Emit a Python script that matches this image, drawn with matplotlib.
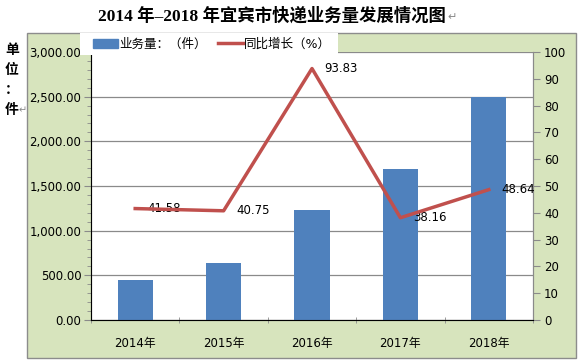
import matplotlib.pyplot as plt
import numpy as np
from matplotlib.patches import Rectangle, Patch
from matplotlib.lines import Line2D
from matplotlib.ticker import FuncFormatter, MultipleLocator, FixedLocator

years = ['2014年', '2015年', '2016年', '2017年', '2018年']
volume = [452, 637, 1230, 1690, 2500]
growth = [41.58, 40.75, 93.83, 38.16, 48.64]

W, H = 578, 360
fig = plt.figure(figsize=(W / 100, H / 100), dpi=100)
fig.patch.set_facecolor('white')

# green chart box
fig.patches.append(Rectangle((27 / W, 1 - 358 / H), 549 / W, 325 / H, transform=fig.transFigure,
                             facecolor='#D7E4BD', edgecolor='#8c8c8c', lw=1.0, zorder=-5))

cjk = ['DejaVu Sans', 'Noto Sans CJK SC']

ax = fig.add_axes([91 / W, 1 - 320 / H, 442 / W, 268 / H])
ax.set_facecolor('white')
x = np.arange(len(years))
ax.bar(x, volume, width=0.4, color='#4F81BD', zorder=3)
ax.set_xlim(-0.5, 4.5)
ax.set_ylim(0, 3000)
ax.yaxis.set_major_locator(MultipleLocator(500))
ax.yaxis.set_minor_locator(MultipleLocator(100))
ax.yaxis.set_major_formatter(FuncFormatter(lambda v, p: f'{v:,.2f}'))
ax.grid(axis='y', color='#8a8a8a', lw=0.9, zorder=1)
ax.set_xticks(x)
ax.set_xticklabels(years, family=cjk, fontsize=8.5)
ax.xaxis.set_minor_locator(FixedLocator(np.arange(-0.5, 5, 1)))
ax.tick_params(axis='x', which='major', length=0, pad=12)
ax.tick_params(axis='x', which='minor', length=4, direction='inout', color='#8a8a8a')
ax.tick_params(axis='y', which='major', length=5, color='#8a8a8a', labelsize=8.5, pad=2)
ax.tick_params(axis='y', which='minor', length=3, color='#8a8a8a')
ax.spines['top'].set_visible(False)
for s in ['left', 'bottom', 'right']:
    ax.spines[s].set_color('#8a8a8a')

ax2 = ax.twinx()
ax2.plot(x, growth, color='#C0504D', lw=2.5, zorder=4)
ax2.set_ylim(0, 100)
ax2.yaxis.set_major_locator(MultipleLocator(10))
ax2.tick_params(axis='y', length=5, color='#8a8a8a', labelsize=8.5, pad=3)
ax2.spines['top'].set_visible(False)
ax2.spines['right'].set_color('#8a8a8a')
for xi, g in zip(x, growth):
    ax2.annotate(f'{g:.2f}', (xi, g), xytext=(9, 0), textcoords='offset points',
                 va='center', ha='left', fontsize=8.5)

# legend box
fig.patches.append(Rectangle((80 / W, 1 - 55 / H), 258 / W, 22 / H, transform=fig.transFigure,
                             facecolor='white', edgecolor='none', zorder=5))
handles = [Patch(color='#4F81BD'), Line2D([], [], color='#C0504D', lw=2.5)]
leg = fig.legend(handles, ['业务量：（件）', '同比增长（%）'], loc='center left',
                 bbox_to_anchor=(88 / W, 1 - 44 / H), ncol=2, frameon=False,
                 prop={'family': cjk, 'size': 9}, handlelength=2.0, handletextpad=0.1,
                 columnspacing=0.9, borderaxespad=0)
leg.set_zorder(6)

fig.text(272 / W, 1 - 16 / H, '2014 年–2018 年宜宾市快递业务量发展情况图', ha='center', va='center',
         fontsize=12.5, fontweight='bold', family=['Liberation Serif', 'Noto Sans CJK SC'])
fig.text(447 / W, 1 - 17 / H, '↵', ha='left', va='center', fontsize=8, color='#888888')
fig.text(12 / W, 1 - 80 / H, '单\n位\n：\n件', ha='center', va='center', fontsize=10,
         fontweight='bold', family=['Noto Sans CJK SC'], linespacing=1.55)
fig.text(19 / W, 1 - 110 / H, '↵', ha='left', va='center', fontsize=7, color='#888888')

fig.savefig('out.png', dpi=100, facecolor='white')
